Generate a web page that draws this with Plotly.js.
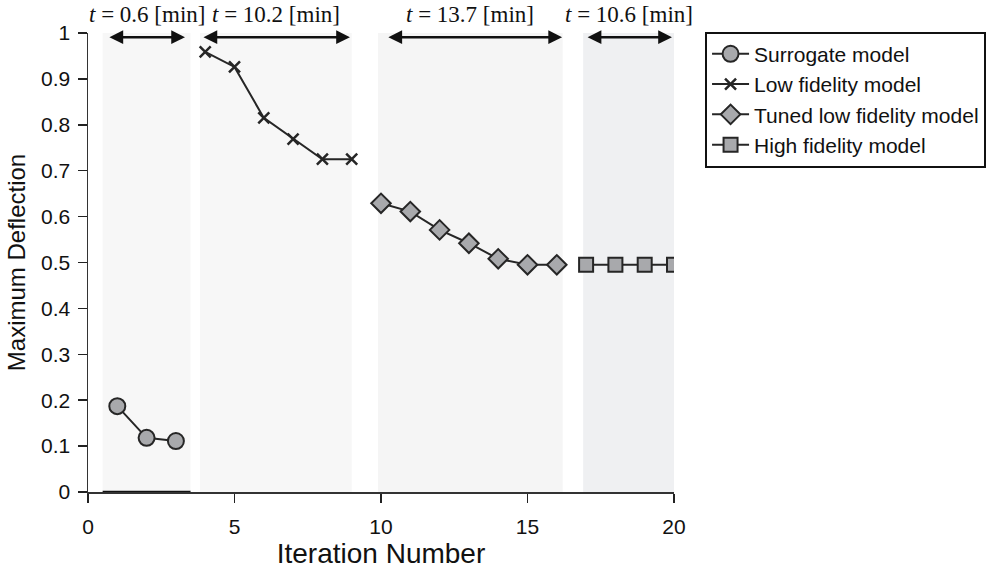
<!DOCTYPE html>
<html><head><meta charset="utf-8">
<script src="https://cdn.plot.ly/plotly-3.0.1.min.js"></script>
<style>html,body{margin:0;padding:0;background:#fff}#c{width:995px;height:569px}</style>
</head><body><div id="c"></div>
<script>
const surrX = [1, 2, 3];
const surrY = [0.187, 0.118, 0.111];
const lowX = [4, 5, 6, 7, 8, 9];
const lowY = [0.959, 0.926, 0.815, 0.769, 0.725, 0.725];
const tunedX = [10, 11, 12, 13, 14, 15, 16];
const tunedY = [0.629, 0.611, 0.571, 0.542, 0.508, 0.495, 0.495];
const highX = [17, 18, 19, 20];
const highY = [0.495, 0.495, 0.495, 0.495];

const regionStart = [0.5, 3.82, 9.9, 16.9];
const regionEnd = [3.5, 9.0, 16.2, 20];
const arrowStart = [0.68, 3.89, 10.2, 17.0];
const arrowEnd = [3.31, 8.94, 16.18, 19.93];
const regionTimes = ['0.6', '10.2', '13.7', '10.6'];
const regionColors = ['#f7f7f7', '#f7f7f7', '#f5f5f5', '#eff0f2'];

const seriesNames = ['Surrogate model', 'Low fidelity model', 'Tuned low fidelity model', 'High fidelity model'];

const lineCol = '#262626';
const fillCol = '#a8a9ac';

const traces = [
  {x: surrX, y: surrY, name: seriesNames[0], mode: 'lines+markers', line: {color: lineCol, width: 2},
   marker: {symbol: 'circle', size: 16, color: fillCol, line: {color: lineCol, width: 2}}},
  {x: lowX, y: lowY, name: seriesNames[1], mode: 'lines+markers', line: {color: lineCol, width: 2},
   marker: {symbol: 'x-thin', size: 11, color: lineCol, line: {color: lineCol, width: 2.5}}},
  {x: tunedX, y: tunedY, name: seriesNames[2], mode: 'lines+markers', line: {color: lineCol, width: 2},
   marker: {symbol: 'diamond', size: 15, color: fillCol, line: {color: lineCol, width: 2}}},
  {x: highX, y: highY, name: seriesNames[3], mode: 'lines+markers', line: {color: lineCol, width: 2},
   marker: {symbol: 'square', size: 14, color: fillCol, line: {color: lineCol, width: 2}}}
];

const shapes = [];
const annotations = [];
for (let i = 0; i < regionStart.length; i++) {
  shapes.push({type: 'rect', xref: 'x', yref: 'y', x0: regionStart[i], x1: regionEnd[i], y0: 0, y1: 1.005,
    fillcolor: regionColors[i], line: {width: 0}, layer: 'below'});
  annotations.push({x: arrowEnd[i], y: 0.991, ax: arrowStart[i], ay: 0.991, xref: 'x', yref: 'y', axref: 'x', ayref: 'y',
    showarrow: true, arrowhead: 2, startarrowhead: 2, arrowside: 'end+start', arrowsize: 1.1, startarrowsize: 1.1,
    arrowwidth: 2.5, arrowcolor: '#111', text: ''});
  annotations.push({x: (regionStart[i] + regionEnd[i]) / 2, y: 1.0, xref: 'x', yref: 'y', yanchor: 'bottom', yshift: 4,
    showarrow: false, text: '<i>t</i> = ' + regionTimes[i] + ' [min]',
    font: {family: 'Liberation Serif, DejaVu Serif, serif', size: 23, color: '#111'}});
}
// dark baseline under the surrogate region
shapes.push({type: 'line', xref: 'x', yref: 'y', x0: regionStart[0], x1: regionEnd[0], y0: 0, y1: 0,
  line: {color: '#111', width: 2.5}});

const layout = {
  width: 995, height: 569,
  margin: {l: 88, r: 321, t: 33, b: 77, autoexpand: false},
  paper_bgcolor: '#fff', plot_bgcolor: '#fff',
  font: {family: 'Liberation Sans, Arial, sans-serif', color: '#111', size: 21},
  showlegend: true,
  legend: {x: 1.053, y: 1.003, xanchor: 'left', yanchor: 'top', bordercolor: '#111', borderwidth: 2,
    bgcolor: '#fff', font: {size: 21, family: 'Liberation Sans, Arial, sans-serif', color: '#111'},
    tracegroupgap: 0, itemwidth: 37},
  xaxis: {range: [0, 20], tickvals: [0, 5, 10, 15, 20], ticks: 'outside', ticklen: 9, tickwidth: 1.5,
    tickcolor: '#222', showline: true, linecolor: '#333', linewidth: 1.5, showgrid: false, zeroline: false,
    ticklabelstandoff: 6,
    tickfont: {size: 21}, title: {text: 'Iteration Number', font: {size: 28}, standoff: 2}},
  yaxis: {range: [0, 1], tickvals: [0, 0.1, 0.2, 0.3, 0.4, 0.5, 0.6, 0.7, 0.8, 0.9, 1],
    ticktext: ['0', '0.1', '0.2', '0.3', '0.4', '0.5', '0.6', '0.7', '0.8', '0.9', '1'],
    ticks: 'outside', ticklen: 9, tickwidth: 1.5, tickcolor: '#222', showline: true, linecolor: '#333',
    linewidth: 1.5, showgrid: false, zeroline: false, tickfont: {size: 21}, ticklabelstandoff: 3,
    title: {text: 'Maximum Deflection', font: {size: 24}, standoff: 8}},
  shapes: shapes,
  annotations: annotations
};

Plotly.newPlot('c', traces, layout, {displayModeBar: false, staticPlot: true});
</script>
</body></html>
